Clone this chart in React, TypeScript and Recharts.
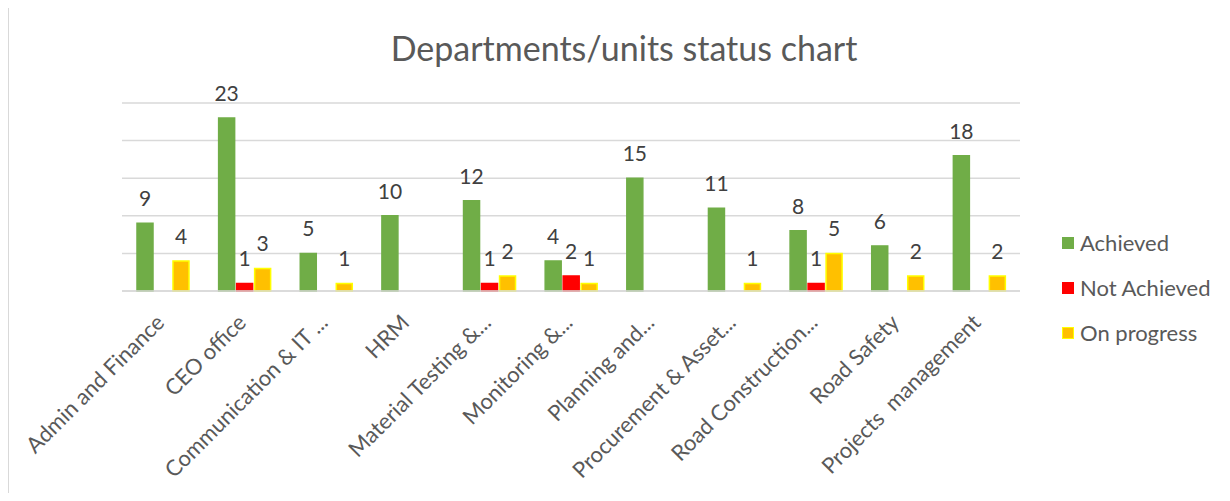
import React from 'react';
import { BarChart, Bar, XAxis, YAxis, CartesianGrid, LabelList } from 'recharts';

const departments = [
  'Admin and Finance',
  'CEO office',
  'Communication & IT ...',
  'HRM',
  'Material Testing &...',
  'Monitoring &...',
  'Planning and...',
  'Procurement & Asset...',
  'Road Construction...',
  'Road Safety',
  'Projects  management',
];
const achieved = [9, 23, 5, 10, 12, 4, 15, 11, 8, 6, 18];
const notAchieved = [0, 1, 0, 0, 1, 2, 0, 0, 1, 0, 0];
const onProgress = [4, 3, 1, 0, 2, 1, 0, 1, 5, 2, 2];
const yTicks = [0, 5, 10, 15, 20, 25];

const series = [
  { key: 'achieved', name: 'Achieved', fill: '#70AD47', stroke: '#70AD47' },
  { key: 'notAchieved', name: 'Not Achieved', fill: '#FF0000', stroke: '#FF0000' },
  { key: 'onProgress', name: 'On progress', fill: '#FFC000', stroke: '#FFFF00' },
];

const data = departments.map((name, i) => ({
  name,
  achieved: achieved[i],
  notAchieved: notAchieved[i],
  onProgress: onProgress[i],
}));

const FONT = 'Lato, "Noto Sans", sans-serif';

function ValueLabel(props: any) {
  const { x, y, width, value } = props;
  if (!value) return null;
  return (
    <text x={x + width / 2} y={y - 17} textAnchor="middle" fill="#404040" fontSize={21} fontFamily={FONT}>
      {value}
    </text>
  );
}

function DeptTick(props: any) {
  const { x, y, payload } = props;
  const tx = x + 3;
  const ty = y + 25;
  return (
    <text
      x={tx}
      y={ty}
      transform={`rotate(-45, ${tx}, ${ty})`}
      textAnchor="end"
      fill="#595959"
      fontSize={22}
      fontFamily={FONT}
      style={{ whiteSpace: 'pre' }}
    >
      {payload.value}
    </text>
  );
}

export default function App() {
  return (
    <div style={{ position: 'relative', width: 1230, height: 501, margin: -8, background: '#fff', overflow: 'hidden' }}>
      <div
        style={{
          position: 'absolute',
          left: 7,
          top: 4,
          width: 1240,
          height: 510,
          borderTop: '2px solid #D9D9D9',
          borderLeft: '2px solid #D9D9D9',
        }}
      />
      <div
        style={{
          position: 'absolute',
          left: 0,
          width: 1248,
          top: 27,
          textAlign: 'center',
          fontFamily: FONT,
          fontSize: 34,
          color: '#595959',
        }}
      >
        Departments/units status chart
      </div>
      <div style={{ position: 'absolute', left: 0, top: 0 }}>
        <BarChart
          width={1230}
          height={501}
          data={data}
          margin={{ top: 103, right: 210, bottom: 60, left: 122 }}
          barGap={2}
          barSize={16}
        >
          <CartesianGrid vertical={false} stroke="#D9D9D9" strokeWidth={1.5} />
          <YAxis hide domain={[0, 25]} ticks={yTicks} />
          <XAxis
            dataKey="name"
            interval={0}
            height={150}
            axisLine={{ stroke: '#D9D9D9', strokeWidth: 1.5 }}
            tickLine={false}
            tick={<DeptTick />}
          />
          {series.map((s) => (
            <Bar key={s.key} dataKey={s.key} name={s.name} fill={s.fill} stroke={s.stroke} strokeWidth={1.5} isAnimationActive={false}>
              <LabelList dataKey={s.key} content={<ValueLabel />} />
            </Bar>
          ))}
        </BarChart>
      </div>
      <div style={{ position: 'absolute', left: 1062, top: 220, fontFamily: FONT, fontSize: 22, color: '#595959' }}>
        {series.map((s) => (
          <div key={s.key} style={{ display: 'flex', alignItems: 'center', height: 45 }}>
            <span
              style={{
                display: 'inline-block',
                width: 10,
                height: 10,
                background: s.fill,
                border: `1.5px solid ${s.stroke}`,
                marginRight: 6,
              }}
            />
            {s.name}
          </div>
        ))}
      </div>
    </div>
  );
}
